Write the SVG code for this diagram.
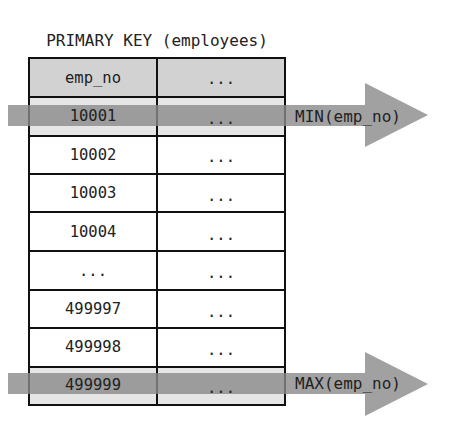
<svg xmlns="http://www.w3.org/2000/svg" width="451" height="428" viewBox="0 0 451 428">
<style>
text{font-family:"DejaVu Sans Mono","Liberation Mono",monospace;font-size:15.5px;fill:#222;text-anchor:middle}
.cell{fill:#fff;stroke:#111;stroke-width:2}
.hdr{fill:#d2d2d2;stroke:#111;stroke-width:2}
.hl{fill:#e6e6e6;stroke:#111;stroke-width:2}
.arrow{fill:#8a8a8a;opacity:0.8}
.lbl{text-anchor:start;font-size:16px}
</style>
<rect width="451" height="428" fill="#fff"/>
<text x="157" y="46" style="font-size:16px">PRIMARY KEY (employees)</text>
<g id="table">
<g id="row-header"><rect class="hdr" x="29" y="58" width="128" height="39"/><rect class="hdr" x="157" y="58" width="128" height="39"/><text x="93" y="83">emp_no</text><text x="221" y="84">...</text></g>
<g id="row-10001"><rect class="hl" x="29" y="97" width="128" height="39"/><rect class="hl" x="157" y="97" width="128" height="39"/></g>
<g id="row-10002"><rect class="cell" x="29" y="136" width="128" height="38"/><rect class="cell" x="157" y="136" width="128" height="38"/><text x="93" y="160">10002</text><text x="221" y="162">...</text></g>
<g id="row-10003"><rect class="cell" x="29" y="174" width="128" height="38"/><rect class="cell" x="157" y="174" width="128" height="38"/><text x="93" y="198">10003</text><text x="221" y="201">...</text></g>
<g id="row-10004"><rect class="cell" x="29" y="212" width="128" height="39"/><rect class="cell" x="157" y="212" width="128" height="39"/><text x="93" y="237">10004</text><text x="221" y="240">...</text></g>
<g id="row-ellipsis"><rect class="cell" x="29" y="251" width="128" height="39"/><rect class="cell" x="157" y="251" width="128" height="39"/><text x="93" y="276">...</text><text x="221" y="278">...</text></g>
<g id="row-499997"><rect class="cell" x="29" y="290" width="128" height="38"/><rect class="cell" x="157" y="290" width="128" height="38"/><text x="93" y="314">499997</text><text x="221" y="317">...</text></g>
<g id="row-499998"><rect class="cell" x="29" y="328" width="128" height="39"/><rect class="cell" x="157" y="328" width="128" height="39"/><text x="93" y="352">499998</text><text x="221" y="355">...</text></g>
<g id="row-499999"><rect class="hl" x="29" y="367" width="128" height="38"/><rect class="hl" x="157" y="367" width="128" height="38"/></g>
</g>
<g id="connectors">
<path class="arrow" d="M8,105 H365 V83 L428,115 L365,147 V126 H8 Z"/>
<path class="arrow" d="M8,373 H365 V352 L428,384 L365,416 V394 H8 Z"/>
</g>
<g id="row-texts">
<text x="93" y="121">10001</text><text x="221" y="124">...</text>
<text x="93" y="390">499999</text><text x="221" y="393">...</text>
</g>
<g id="labels">
<text class="lbl" x="295" y="122">MIN(emp_no)</text>
<text class="lbl" x="295" y="389">MAX(emp_no)</text>
</g>
</svg>
